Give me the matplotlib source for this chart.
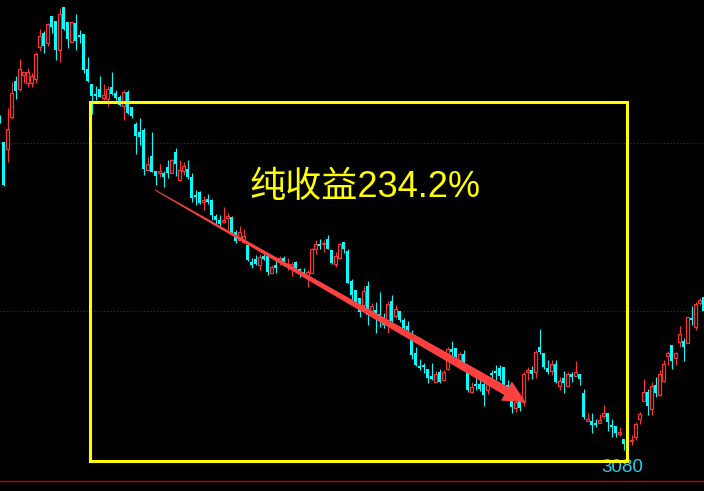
import numpy as np
import matplotlib
matplotlib.use('Agg')
import matplotlib.pyplot as plt
from matplotlib.patches import Rectangle, Polygon
from matplotlib.transforms import IdentityTransform

# daily candles (index = candle number)
opens = [3413,3388,3381,3413,3449,3441,3455,3447,3447,3451,
         3483,3497,3487,3514,3509,3480,3523,3508,3488,3507,
         3495,3496,3461,3446,3436,3441,3432,3431,3443,3437,
         3433,3424,3438,3423,3406,3398,3400,3360,3374,3359,
         3357,3357,3363,3357,3378,3350,3359,3361,3353,3335,
         3338,3328,3331,3330,3314,3310,3308,3312,3313,3298,
         3290,3288,3285,3268,3271,3265,3274,3274,3257,3265,
         3269,3272,3264,3263,3268,3261,3258,3254,3257,3281,
         3286,3286,3291,3280,3266,3272,3288,3279,3249,3240,
         3232,3225,3244,3219,3220,3216,3213,3210,3229,3214,
         3219,3210,3204,3190,3177,3164,3165,3161,3154,3148,
         3158,3150,3161,3181,3182,3170,3176,3158,3138,3146,
         3146,3146,3140,3157,3159,3162,3163,3145,3130,3122,
         3129,3128,3158,3160,3158,3183,3177,3162,3159,3166,
         3144,3152,3144,3156,3154,3156,3137,3109,3109,3107,
         3107,3114,3117,3105,3104,3096,3091,3092,3089,3093,
         3111,3129,3138,3121,3145,3135,3149,3174,3185,3172,
         3188,3189,3187,3212,3203,3227,3233]
highs = [3415,3388,3422,3448,3454,3471,3458,3462,3457,3478,
         3501,3499,3507,3514,3509,3522,3523,3508,3508,3516,
         3500,3496,3473,3446,3444,3454,3446,3444,3458,3440,
         3435,3440,3440,3423,3408,3412,3402,3373,3398,3359,
         3366,3359,3370,3371,3382,3370,3368,3370,3357,3340,
         3339,3334,3336,3331,3316,3315,3323,3317,3314,3300,
         3304,3301,3285,3272,3275,3276,3276,3275,3265,3270,
         3274,3274,3272,3268,3269,3262,3262,3260,3282,3290,
         3291,3290,3295,3280,3278,3287,3288,3281,3251,3240,
         3232,3244,3249,3227,3228,3238,3217,3229,3235,3225,
         3219,3212,3209,3200,3183,3171,3167,3161,3167,3159,
         3161,3160,3183,3189,3182,3178,3180,3158,3148,3152,
         3152,3150,3150,3160,3165,3165,3163,3150,3133,3130,
         3129,3158,3163,3164,3180,3201,3177,3170,3170,3170,
         3153,3159,3158,3158,3169,3156,3141,3117,3117,3111,
         3116,3125,3117,3111,3104,3103,3091,3094,3095,3108,
         3118,3151,3141,3148,3153,3160,3170,3179,3185,3178,
         3204,3192,3213,3224,3228,3232,3233]
lows = [3407,3344,3368,3411,3431,3439,3447,3443,3443,3447,
        3479,3477,3484,3497,3470,3468,3500,3482,3488,3480,
        3487,3457,3448,3416,3430,3433,3430,3424,3435,3430,
        3424,3410,3416,3412,3376,3385,3355,3360,3358,3345,
        3353,3343,3352,3357,3354,3350,3355,3351,3328,3325,
        3326,3320,3326,3310,3306,3304,3308,3300,3295,3287,
        3289,3287,3269,3262,3265,3260,3270,3255,3257,3257,
        3265,3264,3260,3254,3260,3253,3254,3243,3257,3276,
        3281,3278,3281,3266,3263,3271,3277,3247,3230,3224,
        3213,3223,3205,3217,3197,3203,3202,3197,3208,3212,
        3208,3200,3197,3171,3164,3160,3157,3147,3150,3148,
        3147,3150,3160,3174,3172,3170,3165,3138,3137,3140,
        3139,3124,3136,3150,3150,3150,3143,3132,3117,3118,
        3119,3124,3150,3151,3152,3176,3161,3156,3155,3147,
        3140,3137,3144,3148,3154,3145,3111,3109,3097,3103,
        3107,3112,3099,3093,3093,3094,3080,3084,3085,3090,
        3106,3129,3115,3115,3133,3134,3148,3165,3161,3165,
        3183,3169,3187,3205,3200,3225,3219]
closes = [3409,3345,3401,3437,3439,3461,3458,3458,3454,3476,
          3494,3484,3506,3503,3480,3516,3501,3491,3508,3489,
          3493,3460,3449,3434,3434,3433,3435,3441,3436,3432,
          3425,3438,3417,3414,3394,3393,3361,3366,3358,3354,
          3359,3353,3357,3370,3366,3360,3364,3353,3332,3333,
          3327,3330,3328,3315,3310,3306,3310,3314,3296,3289,
          3298,3294,3270,3265,3266,3273,3271,3258,3263,3262,
          3272,3267,3266,3266,3260,3258,3255,3258,3281,3286,
          3284,3287,3281,3267,3274,3286,3281,3247,3235,3227,
          3218,3239,3215,3224,3215,3210,3205,3226,3209,3221,
          3210,3202,3200,3175,3165,3162,3163,3152,3151,3156,
          3148,3158,3181,3178,3173,3176,3167,3140,3143,3144,
          3141,3135,3146,3155,3157,3154,3145,3135,3123,3128,
          3122,3156,3160,3156,3178,3178,3163,3158,3166,3148,
          3149,3147,3156,3153,3158,3151,3113,3111,3105,3105,
          3110,3117,3108,3103,3097,3098,3086,3087,3090,3106,
          3116,3138,3124,3144,3137,3156,3166,3177,3169,3177,
          3196,3183,3213,3210,3226,3230,3219]

grid_levels = [3387.5, 3218.7]
low_label = '3080'
title_text = '纯收益234.2%'

UP = '#ff3232'
DOWN = '#00ffff'

o = np.array(opens, float)
h = np.array(highs, float)
l = np.array(lows, float)
c = np.array(closes, float)
x = np.arange(len(o))
up = c >= o

fig = plt.figure(figsize=(7.04, 4.91), dpi=100, facecolor='black')
ax = fig.add_axes([0, 0, 1, 1])
ax.set_xlim(0.125, 176.125)
ax.set_ylim(3039, 3530)
ax.axis('off')

# dotted grid + bottom border
for g in grid_levels:
    ax.axhline(g, color='#9a0a0a', ls=(0, (1, 2)), lw=0.8, zorder=1)
ax.axhline(3049.5, color='#c80000', lw=1.0, zorder=1)

# wicks
ax.vlines(x[up], l[up], h[up], color=UP, lw=0.8, zorder=2)
ax.vlines(x[~up], l[~up], h[~up], color=DOWN, lw=0.8, zorder=2)

# bodies
bw = 0.72
bot = np.minimum(o, c)
ht = np.maximum(np.abs(c - o), 1.0)
ax.bar(x[up], ht[up], bottom=bot[up], width=bw, facecolor='black',
       edgecolor=UP, lw=0.9, zorder=3)
ax.bar(x[~up], ht[~up], bottom=bot[~up], width=bw, color=DOWN, lw=0, zorder=3)

# lowest price label
ax.text(150.4, 3063, low_label, color='#22d0f0', fontsize=13.5,
        family=['Liberation Sans', 'DejaVu Sans'], ha='left', va='center', zorder=4)

# yellow box
ax.add_patch(Rectangle((22.6, 3069), 156.75 - 22.6, 3428.5 - 3069, fill=False,
                       edgecolor='#ffff00', lw=2.2, zorder=5))

ax.text(62.6, 3342, title_text, color='#ffff00', fontsize=26,
        family=['Liberation Sans', 'Noto Sans CJK SC'], ha='left', va='center', zorder=6)

# tapered red arrow, built in pixel space
s = ax.transData.transform((38.875, 3340))
t = ax.transData.transform((131.5, 3128))
d = t - s
u = d / np.hypot(*d)
n = np.array([-u[1], u[0]])
b = t - 22 * u
pts = [s + n * 0.5, b + n * 4.5, b + n * 11, t, b - n * 11, b - n * 4.5, s - n * 0.5]
ax.add_patch(Polygon(pts, closed=True, transform=IdentityTransform(),
                     facecolor='#ff4040', lw=0, zorder=6))

plt.savefig('out.png', dpi=100, facecolor='black')
